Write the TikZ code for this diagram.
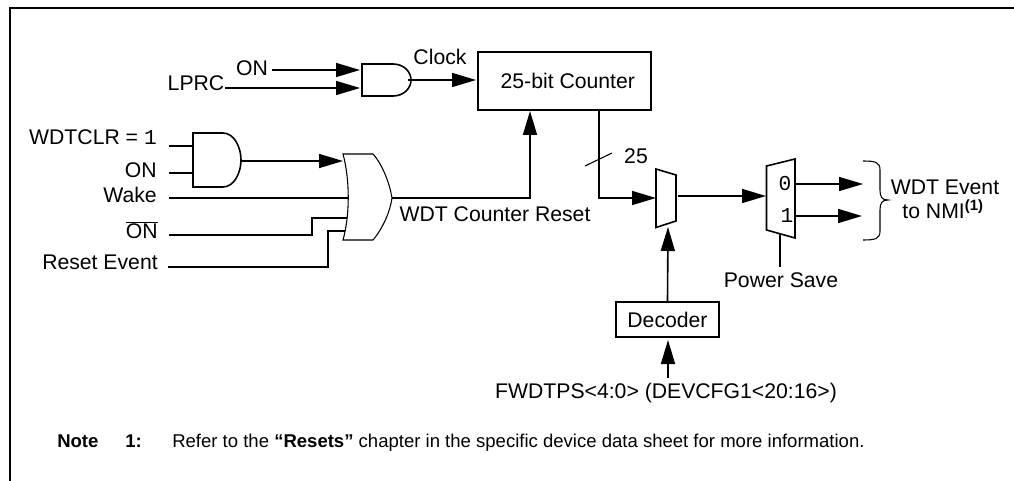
\documentclass[tikz,border=0pt]{standalone}
\usepackage{fontspec}
\setmainfont{Liberation Sans}
\setmonofont{Liberation Mono}
\usetikzlibrary{arrows.meta}

\begin{document}
\begin{tikzpicture}[x=.75pt,y=-.75pt,
	lbl/.style={inner sep=0pt,font=\fontsize{15.9}{18}\selectfont},
	notelbl/.style={inner sep=0pt,anchor=base west,font=\fontsize{13.9}{16}\selectfont},
	box/.style={draw,line width=1.4pt,inner sep=0pt,font=\fontsize{15.9}{18}\selectfont},
	wire/.style={line width=1.2pt},
	arr/.style={line width=1.2pt,-{Triangle[length=18pt,width=10.5pt]}},
	thin gate/.style={line width=.8pt},
	thick gate/.style={line width=1.2pt}]
\useasboundingbox (0,0) rectangle (1014,481);
\draw[line width=1.5pt] (10,481) -- (10,8) -- (1014,8);

\path (252,68) node[lbl] (on) {ON}
		(196,83) node[lbl] (lprc) {LPRC}
		(440,57) node[lbl] (clock) {Clock}
		(564.5,81) node[box,minimum width=173pt*.75,minimum height=58pt*.75] (counter) {\hspace{5pt}25-bit Counter}
		(157,137) node[lbl,anchor=east] (wdtclr) {WDTCLR = \texttt{1}}
		(157,170) node[lbl,anchor=east] (onb) {ON}
		(157,195) node[lbl,anchor=east] (wake) {Wake}
		(158,230) node[lbl,anchor=east] (onbar) {$\overline{\mbox{ON}}$}
		(158,262) node[lbl,anchor=east] (reset) {Reset Event}
		(495,214) node[lbl] (wdtreset) {WDT Counter Reset}
		(636,156) node[lbl] (width) {25}
		(785,184) node[lbl] (zero) {\texttt{0}}
		(787,216) node[lbl] (one) {\texttt{1}}
		(781,280) node[lbl] (powersave) {Power Save}
		(667.5,319.5) node[box,minimum width=103pt*.75,minimum height=35pt*.75] (decoder) {Decoder}
		(666,393) node[lbl] (fwdtps) {FWDTPS<4:0> (DEVCFG1<20:16>)}
		(945,187) node[lbl] (event) {WDT Event}
		(943,209) node[lbl] (nmi) {to NMI\textsuperscript{\textbf{(1)}}}
		(57,447) node[notelbl] (note) {\textbf{Note}}
		(125,447) node[notelbl] (noteno) {\textbf{1:}}
		(172,447) node[notelbl] (notetext) {Refer to the \textbf{“Resets”} chapter in the specific device data sheet for more information.}
		;

\path (272,70) coordinate (onend)
		(225,88) coordinate (lprcend)
		(360,70) coordinate (andAa)
		(360,88) coordinate (andAb)
		(408,80) coordinate (andAout)
		(476,80) coordinate (counterclk)
		(169,146) coordinate (clrend)
		(169,173) coordinate (onbend)
		(193,146) coordinate (andBa)
		(193,173) coordinate (andBb)
		(241,161) coordinate (andBout)
		(343,161) coordinate (orA)
		(169,198) coordinate (wakeend)
		(348,198) coordinate (orB)
		(169,235) coordinate (onbarend)
		(347,218) coordinate (orC)
		(168,267) coordinate (resetend)
		(345,231) coordinate (orD)
		(392,198) coordinate (orout)
		(530,111) coordinate (counterin)
		(599,110) coordinate (counterout)
		(656,198) coordinate (muxAin)
		(668,227) coordinate (muxAsel)
		(678,196) coordinate (muxAout)
		(766,196) coordinate (muxBin)
		(796,184) coordinate (muxBa)
		(796,216) coordinate (muxBb)
		(863,184) coordinate (evA)
		(862,216) coordinate (evB)
		(780,234) coordinate (muxBsel)
		(780,267) coordinate (saveend)
		(668,378) coordinate (fwdtpsend)
		(668,340) coordinate (decoderin)
		(585,166) coordinate (slashA)
		(612,153) coordinate (slashB)
		;

% gates
\draw[thick gate] (362,64) -- (393,64) .. controls (404,64) and (411,72) .. (411,80) .. controls (411,88) and (404,96) .. (393,96) -- (362,96) -- cycle;
\draw[thick gate] (193,133) -- (223,133) .. controls (234,133) and (241,147) .. (241,160) .. controls (241,173) and (234,187) .. (223,187) -- (193,187) -- cycle;
\draw[thin gate] (343,154) -- (373,154) .. controls (383,165) and (390,185) .. (392,198) .. controls (390,212) and (383,228) .. (373,240) -- (343,240) .. controls (350,215) and (350,180) .. (343,154) -- cycle;
\draw[thick gate] (656,169) -- (676,175) -- (676,221) -- (656,227.5) -- cycle;
\draw[thick gate] (766.5,166) -- (795,159) -- (795,238) -- (766.5,230) -- cycle;

% connectors
\draw[arr] (onend) -- (andAa);
\draw[arr] (lprcend) -- (andAb);
\draw[arr] (andAout) -- (counterclk);
\draw[wire] (clrend) -- (andBa);
\draw[wire] (onbend) -- (andBb);
\draw[arr] (andBout) -- (orA);
\draw[wire] (wakeend) -- (orB);
\draw[wire] (onbarend) -- (312,235) -- (312,218) -- (orC);
\draw[wire] (resetend) -- (328,267) -- (328,231) -- (orD);
\draw[arr] (orout) -- (530,198) -- (counterin);
\draw[arr] (counterout) -- (599,198) -- (muxAin);
\draw[thin gate] (slashA) -- (slashB);
\draw[arr] (muxAout) -- (muxBin);
\draw[arr] (muxBa) -- (evA);
\draw[arr] (muxBb) -- (evB);
\draw[wire] (muxBsel) -- (saveend);
\draw[arr] (node cs:name=decoder,anchor=north) -- (muxAsel);
\draw[arr] (fwdtpsend) -- (decoderin);

% brace
\draw[thin gate] (863,161) .. controls (875,161) and (880,162) .. (880,170) -- (880,190) .. controls (880,197) and (882,200) .. (888,200) .. controls (882,200) and (880,203) .. (880,210) -- (880,231) .. controls (880,239) and (875,240) .. (863,240);
\end{tikzpicture}
\end{document}
